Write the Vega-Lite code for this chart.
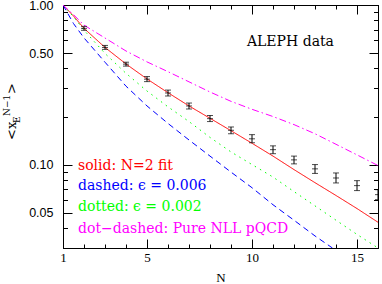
{
  "$schema": "https://vega.github.io/schema/vega-lite/v6.json",
  "width": 315,
  "height": 243,
  "autosize": "none",
  "padding": {"left": 63, "top": 5, "right": 4, "bottom": 36},
  "background": "white",
  "config": {
    "view": {"stroke": "black", "strokeWidth": 1},
    "axis": {"grid": false, "domainColor": "black", "tickColor": "black", "domainWidth": 1, "tickWidth": 1, "labelColor": "black", "titleColor": "black"}
  },
  "datasets": {
    "curves": [
      {"s": "fit", "N": 1, "v": 1}, {"s": "fit", "N": 1.5, "v": 0.853}, {"s": "fit", "N": 2, "v": 0.714}, {"s": "fit", "N": 3, "v": 0.542}, {"s": "fit", "N": 4, "v": 0.427}, {"s": "fit", "N": 5, "v": 0.344}, {"s": "fit", "N": 6, "v": 0.282}, {"s": "fit", "N": 7, "v": 0.233}, {"s": "fit", "N": 8, "v": 0.195}, {"s": "fit", "N": 9, "v": 0.163}, {"s": "fit", "N": 10, "v": 0.136}, {"s": "fit", "N": 11, "v": 0.113}, {"s": "fit", "N": 12, "v": 0.093}, {"s": "fit", "N": 13, "v": 0.077}, {"s": "fit", "N": 14, "v": 0.064}, {"s": "fit", "N": 15, "v": 0.053}, {"s": "fit", "N": 16, "v": 0.0435},
      {"s": "e006", "N": 1, "v": 1}, {"s": "e006", "N": 1.5, "v": 0.765}, {"s": "e006", "N": 2, "v": 0.622}, {"s": "e006", "N": 3, "v": 0.438}, {"s": "e006", "N": 4, "v": 0.31}, {"s": "e006", "N": 5, "v": 0.233}, {"s": "e006", "N": 6, "v": 0.181}, {"s": "e006", "N": 7, "v": 0.1426}, {"s": "e006", "N": 8, "v": 0.113}, {"s": "e006", "N": 9, "v": 0.0897}, {"s": "e006", "N": 10, "v": 0.0716}, {"s": "e006", "N": 11, "v": 0.056}, {"s": "e006", "N": 12, "v": 0.0448}, {"s": "e006", "N": 13, "v": 0.0357}, {"s": "e006", "N": 13.83, "v": 0.03},
      {"s": "e002", "N": 1, "v": 1}, {"s": "e002", "N": 1.5, "v": 0.844}, {"s": "e002", "N": 2, "v": 0.695}, {"s": "e002", "N": 3, "v": 0.497}, {"s": "e002", "N": 4, "v": 0.373}, {"s": "e002", "N": 5, "v": 0.289}, {"s": "e002", "N": 6, "v": 0.23}, {"s": "e002", "N": 7, "v": 0.186}, {"s": "e002", "N": 8, "v": 0.148}, {"s": "e002", "N": 9, "v": 0.12}, {"s": "e002", "N": 10, "v": 0.1}, {"s": "e002", "N": 11, "v": 0.0835}, {"s": "e002", "N": 12, "v": 0.0677}, {"s": "e002", "N": 13, "v": 0.0551}, {"s": "e002", "N": 14, "v": 0.0448}, {"s": "e002", "N": 15, "v": 0.0365}, {"s": "e002", "N": 16, "v": 0.03},
      {"s": "nll", "N": 1, "v": 1}, {"s": "nll", "N": 1.5, "v": 0.87}, {"s": "nll", "N": 2, "v": 0.748}, {"s": "nll", "N": 3, "v": 0.621}, {"s": "nll", "N": 4, "v": 0.515}, {"s": "nll", "N": 5, "v": 0.44}, {"s": "nll", "N": 6, "v": 0.382}, {"s": "nll", "N": 7, "v": 0.33}, {"s": "nll", "N": 8, "v": 0.285}, {"s": "nll", "N": 9, "v": 0.249}, {"s": "nll", "N": 10, "v": 0.222}, {"s": "nll", "N": 11, "v": 0.2}, {"s": "nll", "N": 12, "v": 0.178}, {"s": "nll", "N": 13, "v": 0.156}, {"s": "nll", "N": 14, "v": 0.134}, {"s": "nll", "N": 15, "v": 0.115}, {"s": "nll", "N": 16, "v": 0.0986}
    ],
    "pts": [
      {"N": 2, "v": 0.714, "lo": 0.694, "hi": 0.735},
      {"N": 3, "v": 0.542, "lo": 0.527, "hi": 0.558},
      {"N": 4, "v": 0.426, "lo": 0.414, "hi": 0.438},
      {"N": 5, "v": 0.343, "lo": 0.331, "hi": 0.356},
      {"N": 6, "v": 0.281, "lo": 0.269, "hi": 0.293},
      {"N": 7, "v": 0.233, "lo": 0.223, "hi": 0.243},
      {"N": 8, "v": 0.194, "lo": 0.186, "hi": 0.203},
      {"N": 9, "v": 0.164, "lo": 0.156, "hi": 0.172},
      {"N": 10, "v": 0.145, "lo": 0.137, "hi": 0.154},
      {"N": 11, "v": 0.124, "lo": 0.117, "hi": 0.131},
      {"N": 12, "v": 0.107, "lo": 0.101, "hi": 0.113},
      {"N": 13, "v": 0.094, "lo": 0.088, "hi": 0.1},
      {"N": 14, "v": 0.0824, "lo": 0.0767, "hi": 0.0886},
      {"N": 15, "v": 0.0738, "lo": 0.0687, "hi": 0.0793},
      {"N": 16, "v": 0.0648, "lo": 0.0603, "hi": 0.0696}
    ]
  },
  "resolve": {"axis": {"x": "independent", "y": "independent"}},
  "layer": [
    {
      "data": {"name": "curves"},
      "mark": {"type": "line", "strokeWidth": 1, "clip": true},
      "encoding": {
        "x": {"field": "N", "type": "quantitative", "scale": {"domain": [1, 16], "nice": false, "zero": false},
          "axis": {"orient": "bottom", "values": [1,2,3,4,5,6,7,8,9,10,11,12,13,14,15,16],
            "labelExpr": "indexof([1,5,10,15], datum.value) >= 0 ? datum.label : ''",
            "tickSize": {"condition": {"test": "datum.value % 5 === 0 || datum.value === 1", "value": -9}, "value": -4},
            "labelPadding": 12, "labelFont": "Liberation Serif", "labelFontSize": 13, "labelFlush": false, "labelOverlap": false,
            "title": "N", "titleFont": "Liberation Serif", "titleFontSize": 13, "titleFontWeight": "normal", "titlePadding": 2}},
        "y": {"field": "v", "type": "quantitative", "scale": {"type": "log", "domain": [0.03, 1], "nice": false},
          "axis": {"orient": "left", "values": [0.03,0.04,0.05,0.06,0.07,0.08,0.09,0.1,0.2,0.3,0.4,0.5,0.6,0.7,0.8,0.9,1],
            "labelExpr": "indexof([0.05,0.1,0.5,1], datum.value) >= 0 ? format(datum.value, '.2f') : ''",
            "tickSize": {"condition": {"test": "indexof([0.05,0.1,0.5,1], datum.value) >= 0", "value": -9}, "value": -4.5},
            "labelPadding": 19, "labelFont": "Liberation Sans", "labelFontSize": 12.5, "labelOverlap": false, "labelFlush": false, "title": null}},
        "color": {"field": "s", "type": "nominal", "legend": null,
          "scale": {"domain": ["fit", "e006", "e002", "nll"], "range": ["#ff0000", "#0000ff", "#00ff00", "#ff00ff"]}},
        "strokeDash": {"field": "s", "type": "nominal", "legend": null,
          "scale": {"domain": ["fit", "e006", "e002", "nll"], "range": [[1, 0], [6, 4], [1.5, 4.5], [7, 3, 1.5, 3]]}}
      }
    },
    {
      "data": {"name": "pts"},
      "mark": {"type": "rule", "color": "black", "strokeWidth": 1, "clip": true},
      "encoding": {
        "x": {"field": "N", "type": "quantitative", "scale": {"domain": [1, 16], "nice": false, "zero": false},
          "axis": {"orient": "top", "values": [1,2,3,4,5,6,7,8,9,10,11,12,13,14,15,16], "labels": false,
            "tickSize": {"condition": {"test": "datum.value % 5 === 0", "value": -9}, "value": -4}, "title": null}},
        "y": {"field": "lo", "type": "quantitative", "scale": {"type": "log", "domain": [0.03, 1], "nice": false},
          "axis": {"orient": "right", "values": [0.03,0.04,0.05,0.06,0.07,0.08,0.09,0.1,0.2,0.3,0.4,0.5,0.6,0.7,0.8,0.9,1], "labels": false,
            "tickSize": {"condition": {"test": "indexof([0.05,0.1,0.5,1], datum.value) >= 0", "value": -9}, "value": -4.5}, "title": null}},
        "y2": {"field": "hi"}
      }
    },
    {
      "data": {"name": "pts"},
      "transform": [{"fold": ["lo", "hi", "v"], "as": ["k", "yv"]}],
      "mark": {"type": "tick", "orient": "horizontal", "size": 6, "thickness": 1, "color": "black", "clip": true},
      "encoding": {
        "x": {"field": "N", "type": "quantitative", "axis": null, "scale": {"domain": [1, 16], "nice": false, "zero": false}},
        "y": {"field": "yv", "type": "quantitative", "axis": null, "scale": {"type": "log", "domain": [0.03, 1], "nice": false}}
      }
    },
    {
      "data": {"values": [{}]},
      "mark": {"type": "text", "align": "left", "baseline": "middle", "font": "DejaVu Serif", "fontSize": 14, "color": "black"},
      "encoding": {
        "x": {"datum": 9.76, "type": "quantitative", "axis": null, "scale": {"domain": [1, 16], "nice": false, "zero": false}},
        "y": {"datum": 0.589, "type": "quantitative", "axis": null, "scale": {"type": "log", "domain": [0.03, 1], "nice": false}},
        "text": {"value": "ALEPH data"}
      }
    },
    {
      "data": {"values": [{}]},
      "mark": {"type": "text", "align": "left", "baseline": "middle", "font": "DejaVu Serif", "fontSize": 14, "color": "#ff0000"},
      "encoding": {
        "x": {"datum": 1.714, "type": "quantitative", "axis": null, "scale": {"domain": [1, 16], "nice": false, "zero": false}},
        "y": {"datum": 0.0985, "type": "quantitative", "axis": null, "scale": {"type": "log", "domain": [0.03, 1], "nice": false}},
        "text": {"value": "solid: N=2 fit"}
      }
    },
    {
      "data": {"values": [{}]},
      "mark": {"type": "text", "align": "left", "baseline": "middle", "font": "DejaVu Serif", "fontSize": 14, "color": "#0000ff"},
      "encoding": {
        "x": {"datum": 1.714, "type": "quantitative", "axis": null, "scale": {"domain": [1, 16], "nice": false, "zero": false}},
        "y": {"datum": 0.0734, "type": "quantitative", "axis": null, "scale": {"type": "log", "domain": [0.03, 1], "nice": false}},
        "text": {"value": "dashed: ϵ = 0.006"}
      }
    },
    {
      "data": {"values": [{}]},
      "mark": {"type": "text", "align": "left", "baseline": "middle", "font": "DejaVu Serif", "fontSize": 14, "color": "#00ff00"},
      "encoding": {
        "x": {"datum": 1.714, "type": "quantitative", "axis": null, "scale": {"domain": [1, 16], "nice": false, "zero": false}},
        "y": {"datum": 0.054, "type": "quantitative", "axis": null, "scale": {"type": "log", "domain": [0.03, 1], "nice": false}},
        "text": {"value": "dotted: ϵ = 0.002"}
      }
    },
    {
      "data": {"values": [{}]},
      "mark": {"type": "text", "align": "left", "baseline": "middle", "font": "DejaVu Serif", "fontSize": 14, "color": "#ff00ff"},
      "encoding": {
        "x": {"datum": 1.714, "type": "quantitative", "axis": null, "scale": {"domain": [1, 16], "nice": false, "zero": false}},
        "y": {"datum": 0.0393, "type": "quantitative", "axis": null, "scale": {"type": "log", "domain": [0.03, 1], "nice": false}},
        "text": {"value": "dot−dashed: Pure NLL pQCD"}
      }
    },
    {
      "data": {"values": [{}]},
      "mark": {"type": "text", "align": "left", "baseline": "middle", "angle": 270, "font": "DejaVu Serif", "fontSize": 13, "color": "black"},
      "encoding": {
        "x": {"datum": -1.43, "type": "quantitative", "axis": null, "scale": {"domain": [1, 16], "nice": false, "zero": false}},
        "y": {"datum": 0.1426, "type": "quantitative", "axis": null, "scale": {"type": "log", "domain": [0.03, 1], "nice": false}},
        "text": {"value": "<x"}
      }
    },
    {
      "data": {"values": [{}]},
      "mark": {"type": "text", "align": "left", "baseline": "middle", "angle": 270, "font": "DejaVu Serif", "fontSize": 9, "color": "black"},
      "encoding": {
        "x": {"datum": -1.19, "type": "quantitative", "axis": null, "scale": {"domain": [1, 16], "nice": false, "zero": false}},
        "y": {"datum": 0.182, "type": "quantitative", "axis": null, "scale": {"type": "log", "domain": [0.03, 1], "nice": false}},
        "text": {"value": "E"}
      }
    },
    {
      "data": {"values": [{}]},
      "mark": {"type": "text", "align": "left", "baseline": "middle", "angle": 270, "font": "DejaVu Serif", "fontSize": 9, "color": "black"},
      "encoding": {
        "x": {"datum": -1.69, "type": "quantitative", "axis": null, "scale": {"domain": [1, 16], "nice": false, "zero": false}},
        "y": {"datum": 0.2017, "type": "quantitative", "axis": null, "scale": {"type": "log", "domain": [0.03, 1], "nice": false}},
        "text": {"value": "N−1"}
      }
    },
    {
      "data": {"values": [{}]},
      "mark": {"type": "text", "align": "left", "baseline": "middle", "angle": 270, "font": "DejaVu Serif", "fontSize": 13, "color": "black"},
      "encoding": {
        "x": {"datum": -1.43, "type": "quantitative", "axis": null, "scale": {"domain": [1, 16], "nice": false, "zero": false}},
        "y": {"datum": 0.277, "type": "quantitative", "axis": null, "scale": {"type": "log", "domain": [0.03, 1], "nice": false}},
        "text": {"value": ">"}
      }
    }
  ]
}
